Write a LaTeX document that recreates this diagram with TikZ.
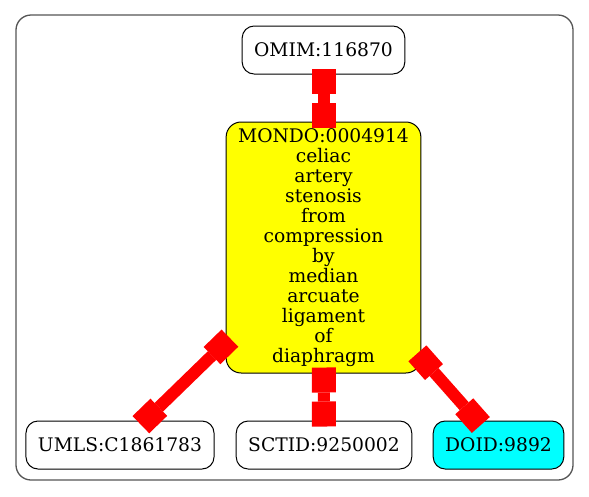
\documentclass[tikz,border=0pt]{standalone}
\usepackage{fontspec}
\setmainfont{DejaVu Serif}
\usepackage{tikz}
\usetikzlibrary{arrows.meta,positioning}
\definecolor{xrefred}{RGB}{255,0,0}
\definecolor{mondoyellow}{RGB}{255,255,0}
\definecolor{doidcyan}{RGB}{0,255,255}
\definecolor{framegray}{RGB}{85,85,85}
\tikzset{
  idbox/.style={rectangle, rounded corners=12pt, draw=black, line width=1pt, fill=white, minimum height=48pt, inner xsep=12pt, font=\fontsize{18.7}{20}\selectfont},
  xref/.style={draw=xrefred, line width=12pt, {Rectangle[length=25pt,width=24pt,line width=0pt]}-{Rectangle[length=25pt,width=24pt,line width=0pt]}, shorten <=-6pt, shorten >=-6pt}
}
\begin{document}
\begin{tikzpicture}[x=1pt, y=-1pt]
\useasboundingbox (0,0) rectangle (589,496);
% Cluster frame
\draw[framegray, line width=1.3pt, rounded corners=15pt] (16,15) rectangle (573,480);
% Top: OMIM
\node[idbox] (omim) at (323.5,50) {OMIM:116870};
% Middle: MONDO term
\node[idbox, fill=mondoyellow, rounded corners=15pt, minimum height=251pt, align=center] (mondo) at (323.5,247.5) {MONDO:0004914\\celiac\\artery\\stenosis\\from\\compression\\by\\median\\arcuate\\ligament\\of\\diaphragm};
% Bottom row
\node[idbox] (umls) at (120,445) {UMLS:C1861783};
\node[idbox] (sctid) at (324,445) {SCTID:9250002};
\node[idbox, fill=doidcyan] (doid) at (498.5,445) {DOID:9892};
% Cross references
\draw[xref] (omim) -- (mondo);
\draw[xref] (mondo) -- (umls);
\draw[xref] (mondo) -- (sctid);
\draw[xref] (mondo) -- (doid);
\end{tikzpicture}
\end{document}
